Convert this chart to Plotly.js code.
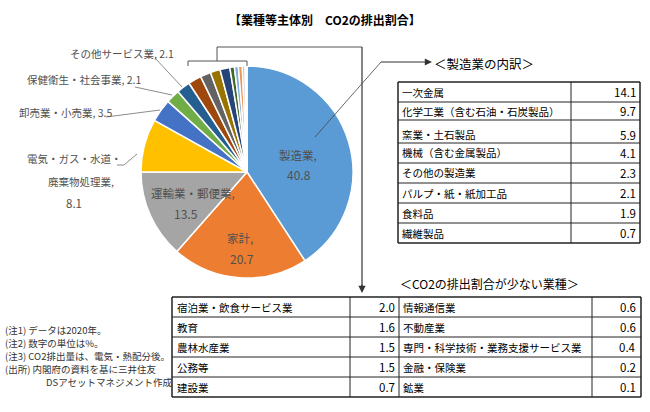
<!DOCTYPE html>
<html>
<head>
<meta charset="utf-8">
<script src="https://cdn.plot.ly/plotly-3.0.1.min.js"></script>
<style>html,body{margin:0;padding:0;background:#fff;}#chart{width:650px;height:412px;}</style>
</head>
<body>
<div id="chart"></div>
<script>
// ---- data ----
const pieLabels = ['製造業','家計','運輸業・郵便業','電気・ガス・水道・廃棄物処理業','卸売業・小売業','保健衛生・社会事業','その他サービス業',
  '宿泊業・飲食サービス業','教育','農林水産業','公務等','建設業','情報通信業','不動産業','専門・科学技術・業務支援サービス業','金融・保険業','鉱業'];
const pieValues = [40.8,20.7,13.5,8.1,3.5,2.1,2.1,2.0,1.6,1.5,1.5,0.7,0.6,0.6,0.4,0.2,0.1];
const pieColors = ['#5B9BD5','#ED7D31','#A5A5A5','#FFC000','#4472C4','#70AD47','#255E91',
  '#9E480E','#636363','#997300','#264478','#43682B','#7CAFDD','#F1975A','#B7B7B7','#FFCD33','#698ED0'];

const mfgLabels = ['一次金属','化学工業（含む石油・石炭製品）','窯業・土石製品','機械（含む金属製品）','その他の製造業','パルプ・紙・紙加工品','食料品','繊維製品'];
const mfgValues = [14.1,9.7,5.9,4.1,2.3,2.1,1.9,0.7];

const lowLeftLabels = ['宿泊業・飲食サービス業','教育','農林水産業','公務等','建設業'];
const lowLeftValues = [2.0,1.6,1.5,1.5,0.7];
const lowRightLabels = ['情報通信業','不動産業','専門・科学技術・業務支援サービス業','金融・保険業','鉱業'];
const lowRightValues = [0.6,0.6,0.4,0.2,0.1];

const notes = ['(注1) データは2020年。','(注2) 数字の単位は%。','(注3) CO2排出量は、電気・熱配分後。','(出所) 内閣府の資料を基に三井住友','DSアセットマネジメント作成'];

// ---- helpers ----
const W = 650, H = 412;
const px = x => x / W, py = y => 1 - y / H;
const FONT = '"Noto Sans CJK JP", "Noto Sans", sans-serif';
const shapes = [], annotations = [];
function line(x0,y0,x1,y1,color,width){
  shapes.push({type:'line',xref:'paper',yref:'paper',x0:px(x0),y0:py(y0),x1:px(x1),y1:py(y1),line:{color:color||'#333',width:width||1}});
}
function text(x,y,t,opt){
  opt = opt||{};
  annotations.push({xref:'paper',yref:'paper',x:px(x),y:py(y),text:t,showarrow:false,
    xanchor:opt.xa||'left',yanchor:'middle',align:opt.align||'left',
    font:{family:FONT,size:opt.size||11,color:opt.color||'#000'}});
}

// ---- pie ----
const cx = 247, cy = 172, r = 106;
const pie = {
  type:'pie', labels:pieLabels, values:pieValues, sort:false, direction:'clockwise', rotation:0,
  marker:{colors:pieColors, line:{color:'#fff',width:1.5}},
  textinfo:'none', hoverinfo:'none', showlegend:false,
  domain:{x:[px(cx-r),px(cx+r)], y:[py(cy+r),py(cy-r)]}
};

// pie labels
const lblColor = '#505050';
text(298,155,pieLabels[0]+',',{xa:'center',size:11.5,color:lblColor});
text(299,175,pieValues[0].toFixed(1),{xa:'center',size:12,color:lblColor});
text(240,238,pieLabels[1]+',',{xa:'center',size:11.5,color:lblColor});
text(242,258,pieValues[1].toFixed(1),{xa:'center',size:12,color:lblColor});
text(193,193,pieLabels[2]+',',{xa:'center',size:11.5,color:lblColor});
text(186,213,pieValues[2].toFixed(1),{xa:'center',size:12,color:lblColor});
text(74,158,'電気・ガス・水道・',{xa:'center',size:10.5,color:lblColor});
text(81,181,'廃棄物処理業,',{xa:'center',size:10.5,color:lblColor});
text(74,203,pieValues[3].toFixed(1),{xa:'center',size:11.5,color:lblColor});
text(17,112,pieLabels[4]+', '+pieValues[4].toFixed(1),{size:10.5,color:lblColor});
text(25,79,pieLabels[5]+', '+pieValues[5].toFixed(1),{size:10.5,color:lblColor});
text(68,53,pieLabels[6]+', '+pieValues[6].toFixed(1),{size:10.5,color:lblColor});

// leader lines
const ll = '#8c8c8c';
line(155,58,182,87,ll,1);
line(135,87,172,95,ll,1);
line(106,117,160,110,ll,1);
line(117,165,124,165,ll,1); line(124,165,137,154,ll,1);

// bracket over small slices
const bc = '#555';
line(188,66,188,61,bc,1); line(188,61,247,61,bc,1); line(247,61,247,66,bc,1);
line(217,61,217,47,bc,1); line(217,47,362,47,bc,1); line(362,47,362,286,'#333',1.2);
annotations.push({xref:'paper',yref:'paper',x:px(362),y:py(293),ax:0,ay:-10,text:'',showarrow:true,
  arrowhead:2,arrowsize:1.2,arrowwidth:1.2,arrowcolor:'#333',standoff:0});

// arrow from manufacturing slice
line(315,137,381,62,'#444',0.8);
line(381,62,426,62,'#333',1.2);
annotations.push({xref:'paper',yref:'paper',x:px(432),y:py(62),ax:-8,ay:0,text:'',showarrow:true,
  arrowhead:2,arrowsize:1.2,arrowwidth:1.2,arrowcolor:'#333',standoff:0});

// title
annotations.push({xref:'paper',yref:'paper',x:px(325),y:py(20),text:'<b>【業種等主体別　CO2の排出割合】</b>',showarrow:false,
  xanchor:'center',yanchor:'middle',font:{family:FONT,size:12,color:'#000'}});

// ---- manufacturing table ----
text(432,63,'＜製造業の内訳＞',{size:12.5});
const mRows = [82,102,120,143,163,183,203,223,243];
const mL = 398, mD = 571, mR = 640;
mRows.forEach((y,i)=>{ line(mL,y,mR,y,'#222',(i===0||i===mRows.length-1)?1.5:1); });
line(mL,mRows[0],mL,mRows[mRows.length-1],'#222',1.5);
line(mD,mRows[0],mD,mRows[mRows.length-1],'#222',1);
line(mR,mRows[0],mR,mRows[mRows.length-1],'#222',1.5);
mfgLabels.forEach((lab,i)=>{
  const yc = (mRows[i]+mRows[i+1])/2 + (i===2?3:0);
  text(mL+2,yc,lab,{size:10.5});
  text(mR-2,yc,mfgValues[i].toFixed(1),{xa:'right',size:11.5});
});

// ---- low-share table ----
text(398,283,'＜CO2の排出割合が少ない業種＞',{size:12});
const lRows = [297,317,337,357,377,397];
const cols = [172,350,399,592,641];
lRows.forEach((y,i)=>{ line(cols[0],y,cols[4],y,'#222',(i===0||i===lRows.length-1)?1.5:1); });
cols.forEach((x,i)=>{ line(x,lRows[0],x,lRows[lRows.length-1],'#222',(i===0||i===cols.length-1)?1.5:1); });
lowLeftLabels.forEach((lab,i)=>{
  const yc = (lRows[i]+lRows[i+1])/2;
  text(cols[0]+3,yc,lab,{size:10.5});
  text(cols[2]-2,yc,lowLeftValues[i].toFixed(1),{xa:'right',size:11.5});
  text(cols[2]+2,yc,lowRightLabels[i],{size:10.5});
  text(cols[4]-3,yc,lowRightValues[i].toFixed(1),{xa:'right',size:11.5});
});

// ---- notes ----
const noteY = [330,343,356,369,382];
notes.forEach((n,i)=>{ text(i===4?44:3,noteY[i],n,{size:9.5,color:'#333'}); });

const layout = {
  width:W, height:H, margin:{l:0,r:0,t:0,b:0}, paper_bgcolor:'#fff', plot_bgcolor:'#fff',
  showlegend:false, shapes:shapes, annotations:annotations, font:{family:FONT}
};
Plotly.newPlot('chart',[pie],layout,{staticPlot:true,displayModeBar:false});
</script>
</body>
</html>
